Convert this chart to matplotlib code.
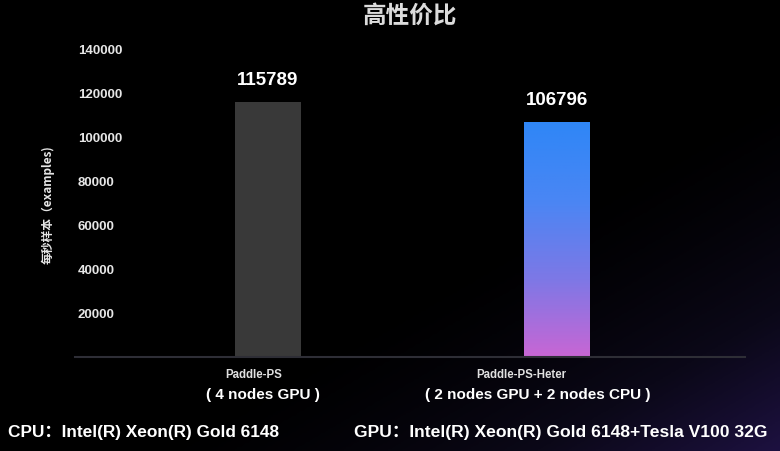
import numpy as np
import matplotlib
matplotlib.use("Agg")
import matplotlib.pyplot as plt
from matplotlib.colors import LinearSegmentedColormap

plt.rcParams['font.family'] = ['Liberation Sans', 'Noto Sans CJK SC', 'DejaVu Sans']

# ---- data ----
categories = ["Paddle-PS", "Paddle-PS-Heter"]
sublabels = ["( 4 nodes GPU )", "( 2 nodes GPU + 2 nodes CPU )"]
values = [115789, 106796]
yticks = [20000, 40000, 60000, 80000, 100000, 120000, 140000]
title = "高性价比"
ylabel = "每秒样本（examples)"
footer_left = "CPU：Intel(R) Xeon(R) Gold 6148"
footer_right = "GPU：Intel(R) Xeon(R) Gold 6148+Tesla V100 32G"

W, H = 780, 451
fig = plt.figure(figsize=(W / 100, H / 100), dpi=100)
fig.patch.set_facecolor("black")

# background gradient (dark purple toward bottom-right)
bg = fig.add_axes([0, 0, 1, 1], zorder=-10)
yy, xx = np.mgrid[0:1:200j, 0:1:300j]
t = np.clip((xx * 0.9 + yy * 0.9 - 1.05) / 0.75, 0, 1) ** 1.5
bg_cmap = LinearSegmentedColormap.from_list("bg", ["#000000", "#0b0818", "#1d1140"])
bg.imshow(t, cmap=bg_cmap, aspect="auto", extent=[0, 1, 0, 1], origin="upper", vmin=0, vmax=1)
bg.set_axis_off()

# main axes
left, right = 75 / W, 745 / W
bottom, top = (H - 357) / H, (H - 27) / H
ax = fig.add_axes([left, bottom, right - left, top - bottom])
ax.set_facecolor("none")

x = np.arange(len(categories))
width = 0.228
ax.set_xlim(-0.667, 1.648)
ax.set_ylim(0, 150000)

bars = ax.bar(x, values, width=width, color=["#393939", "none"], edgecolor="none", zorder=2)

# gradient fill for the second bar
grad_cmap = LinearSegmentedColormap.from_list("g", ["#c866d4", "#7d78e6", "#4a86f4", "#2f86f7"])
b = bars[1]
gx0, gx1 = b.get_x(), b.get_x() + b.get_width()
grad = np.linspace(0, 1, 256).reshape(-1, 1)
im = ax.imshow(grad, cmap=grad_cmap, aspect="auto", origin="lower",
               extent=[gx0, gx1, 0, b.get_height()], zorder=2)
im.set_clip_path(b)
ax.set_xlim(-0.667, 1.648)
ax.set_ylim(0, 150000)

# value labels
for xi, v in zip(x, values):
    ax.annotate(f"{v}", (xi, v), xytext=(0, 13), textcoords="offset pixels",
                ha="center", va="bottom", color="white", fontsize=13.5, fontweight="bold")

# spines
for s in ["top", "right", "left"]:
    ax.spines[s].set_visible(False)
ax.spines["bottom"].set_color("#2e2e36")
ax.spines["bottom"].set_linewidth(1.5)

# y ticks drawn inside, left aligned
ax.set_yticks(yticks)
ax.set_yticklabels([str(v) for v in yticks])
ax.tick_params(axis="y", length=0, pad=-2, labelcolor="#e6e6e6", labelsize=9.5)
for lab in ax.get_yticklabels():
    lab.set_horizontalalignment("left")
    lab.set_fontweight("bold")
ax.set_xticks([])

# category labels (slightly left of bar centres as in the reference)
cat_shift = [-14, -36]
sub_shift = [-5, -20]
for xi, c, s, cs, ss in zip(x, categories, sublabels, cat_shift, sub_shift):
    ax.annotate(c, (xi, 0), xytext=(cs, -18), textcoords="offset pixels",
                ha="center", va="center", color="#e0e0e0", fontsize=8.3,
                fontweight="bold", annotation_clip=False)
    ax.annotate(s, (xi, 0), xytext=(ss, -38), textcoords="offset pixels",
                ha="center", va="center", color="white", fontsize=11,
                fontweight="bold", annotation_clip=False)

# y label
fig.text(48 / W, 1 - 205 / H, ylabel, rotation=90, ha="center", va="center",
         color="#e6e6e6", fontsize=8.5, fontweight="bold",
         family=["Noto Sans CJK SC", "DejaVu Sans"])

# title
fig.text(410 / W, 1 - 16 / H, title, ha="center", va="center", color="#dcdcdc",
         fontsize=17, fontweight="bold", family=["Noto Sans CJK SC", "DejaVu Sans"])

# footer
fig.text(8 / W, 1 - 433 / H, footer_left, ha="left", va="center", color="white",
         fontsize=12.4, fontweight="bold", family=["Liberation Sans", "Noto Sans CJK SC"])
fig.text(768 / W, 1 - 433 / H, footer_right, ha="right", va="center", color="white",
         fontsize=12.6, fontweight="bold", family=["Liberation Sans", "Noto Sans CJK SC"])

fig.savefig("out.png", dpi=100, facecolor=fig.get_facecolor())
